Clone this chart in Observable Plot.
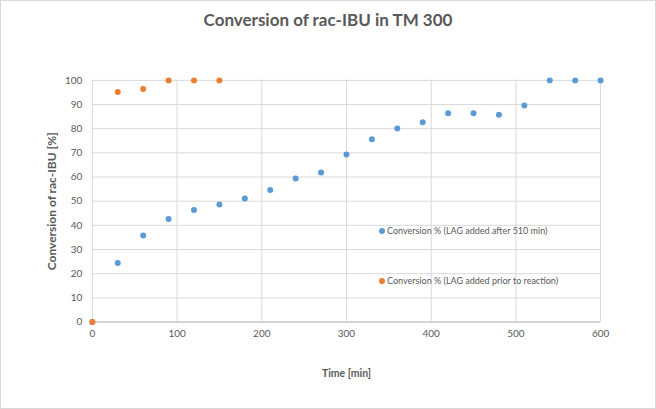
<!DOCTYPE html>
<html>
<head>
<meta charset="utf-8">
<script src="https://cdn.jsdelivr.net/npm/d3@7"></script>
<script src="https://cdn.jsdelivr.net/npm/@observablehq/plot@0.6"></script>
<style>
  body { margin: 0; background: #fff; }
  #wrap { position: relative; width: 656px; height: 409px; box-sizing: border-box; border: 1px solid #d9d9d9; background: #fff; font-family: Lato, "Open Sans", sans-serif; overflow: hidden; }
  #title { position: absolute; left: 0; top: 8px; width: 100%; text-align: center; font-size: 17px; font-weight: bold; color: #595959; }
  #chart { position: absolute; left: -1px; top: -1px; }
  .leg { position: absolute; font-size: 9px; color: #595959; white-space: nowrap; line-height: 12px; }
  .leg span { display: inline-block; width: 6px; height: 6px; border-radius: 50%; margin-right: 2px; vertical-align: middle; position: relative; top: -1px; }
</style>
</head>
<body>
<div id="wrap">
  <div id="title">Conversion of rac-IBU in TM 300</div>
  <div id="chart"></div>
  <div class="leg" style="left:378px; top:224px;"><span style="background:#5b9bd5"></span>Conversion % (LAG added after 510 min)</div>
  <div class="leg" style="left:378px; top:274px;"><span style="background:#ed7d31"></span>Conversion % (LAG added prior to reaction)</div>
</div>
<script>
const timeAfter = [0, 30, 60, 90, 120, 150, 180, 210, 240, 270, 300, 330, 360, 390, 420, 450, 480, 510, 540, 570, 600];
const convAfter = [0, 24.4, 35.8, 42.6, 46.4, 48.6, 51.1, 54.6, 59.4, 61.9, 69.3, 75.6, 80.1, 82.7, 86.4, 86.4, 85.8, 89.6, 100, 100, 100];
const timePrior = [0, 30, 60, 90, 120, 150];
const convPrior = [0, 95.2, 96.4, 100, 100, 100];
const xTicks = [0, 100, 200, 300, 400, 500, 600];
const yTicks = [0, 10, 20, 30, 40, 50, 60, 70, 80, 90, 100];

const after = timeAfter.map((t, i) => ({t, c: convAfter[i]}));
const prior = timePrior.map((t, i) => ({t, c: convPrior[i]}));

const chart = Plot.plot({
  width: 656,
  height: 409,
  marginLeft: 92,
  marginRight: 55,
  marginTop: 80,
  marginBottom: 87,
  style: { fontFamily: "Lato, 'Open Sans', sans-serif", fontSize: "10px", color: "#595959", background: "transparent" },
  x: { domain: [0, 600], ticks: xTicks, label: null },
  y: { domain: [0, 100], ticks: yTicks, label: null },
  marks: [
    Plot.gridX(xTicks, { stroke: "#d9d9d9", strokeOpacity: 1 }),
    Plot.gridY(yTicks, { stroke: "#d9d9d9", strokeOpacity: 1 }),
    Plot.ruleY([0], { stroke: "#bfbfbf" }),
    Plot.axisX(xTicks, { tickSize: 0, tickPadding: 8, label: null, fill: "#595959" }),
    Plot.axisY(yTicks, { tickSize: 0, tickPadding: 10, label: null, fill: "#595959" }),
    Plot.dot(after, { x: "t", y: "c", r: 3, fill: "#5b9bd5", stroke: "none" }),
    Plot.dot(prior, { x: "t", y: "c", r: 3, fill: "#ed7d31", stroke: "none" }),
    Plot.text(["Conversion of rac-IBU [%]"], { frameAnchor: "left", dx: -40, rotate: -90, textAnchor: "middle", fontWeight: "bold", fontSize: 12, fill: "#595959" }),
    Plot.text(["Time [min]"], { frameAnchor: "bottom", dy: 55, fontWeight: "bold", fontSize: 10.5, fill: "#595959" })
  ]
});
document.getElementById("chart").appendChild(chart);
</script>
</body>
</html>
